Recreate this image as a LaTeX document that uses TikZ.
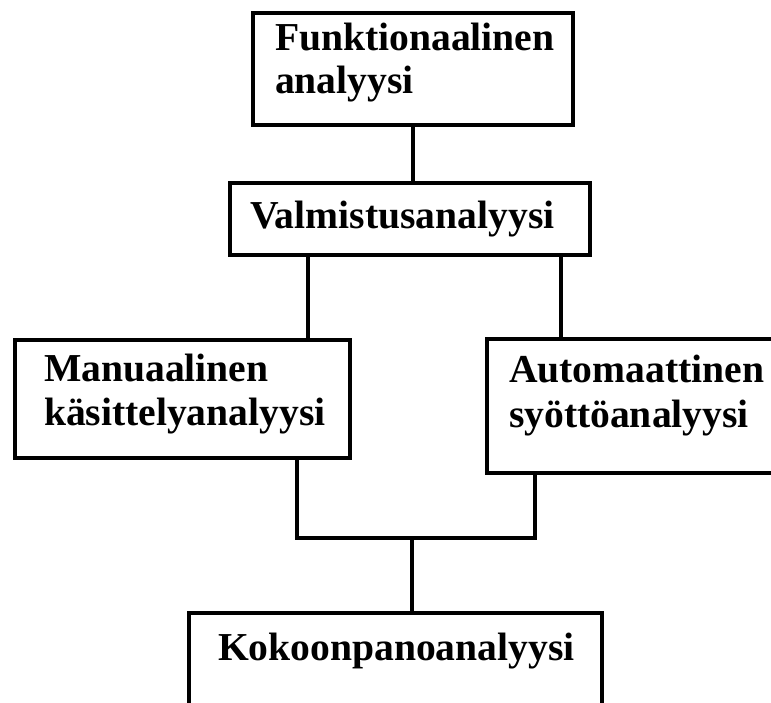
\documentclass[tikz,border=0pt]{standalone}
\usepackage{fontspec}
\setmainfont{Liberation Serif}
\begin{document}
\begin{tikzpicture}[x=1pt,y=-1pt,
  box/.style={draw=black,line width=4pt,inner sep=0pt,outer sep=0pt,fill=white},
  lbl/.style={anchor=base west,inner sep=0pt,outer sep=0pt,font=\fontsize{39.6}{44}\selectfont\bfseries},
  conn/.style={draw=black,line width=4pt}]
\useasboundingbox (0,0) rectangle (771,702);
% boxes
\node[box,minimum width=320pt,minimum height=112pt] (b1) at (413,69) {};
\node[box,minimum width=360pt,minimum height=72pt] (b2) at (410,219) {};
\node[box,minimum width=335pt,minimum height=118pt] (b3) at (182.5,399) {};
\node[box,minimum width=313pt,minimum height=134pt] (b4) at (643.5,406) {};
\node[box,minimum width=413pt,minimum height=127pt] (b5) at (395.5,676.5) {};
% texts
\node[lbl] (t1a) at (275,50) {Funktionaalinen};
\node[lbl] (t1b) at (275,93) {analyysi};
\node[lbl] (t2) at (250,228) {Valmistusanalyysi};
\node[lbl] (t3a) at (44,381) {Manuaalinen};
\node[lbl] (t3b) at (44,425) {käsittelyanalyysi};
\node[lbl] (t4a) at (509,382) {Automaattinen};
\node[lbl] (t4b) at (509,427) {syöttöanalyysi};
\node[lbl] (t5) at (218,660) {Kokoonpanoanalyysi};
% helper coordinates
\coordinate (xl) at (308,0);
\coordinate (xr) at (561,0);
\coordinate (xbl) at (297,0);
\coordinate (xbr) at (535,0);
\coordinate (j) at (412,538);
% connectors
\draw[conn] (b1.south) -- (b1.south |- b2.north);
\draw[conn] (b2.south -| xl) -- (b3.north -| xl);
\draw[conn] (b2.south -| xr) -- (b4.north -| xr);
\draw[conn] (b3.south -| xbl) |- (j) -| (b4.south -| xbr);
\draw[conn] (j) -- (b5.north -| j);
\end{tikzpicture}
\end{document}
